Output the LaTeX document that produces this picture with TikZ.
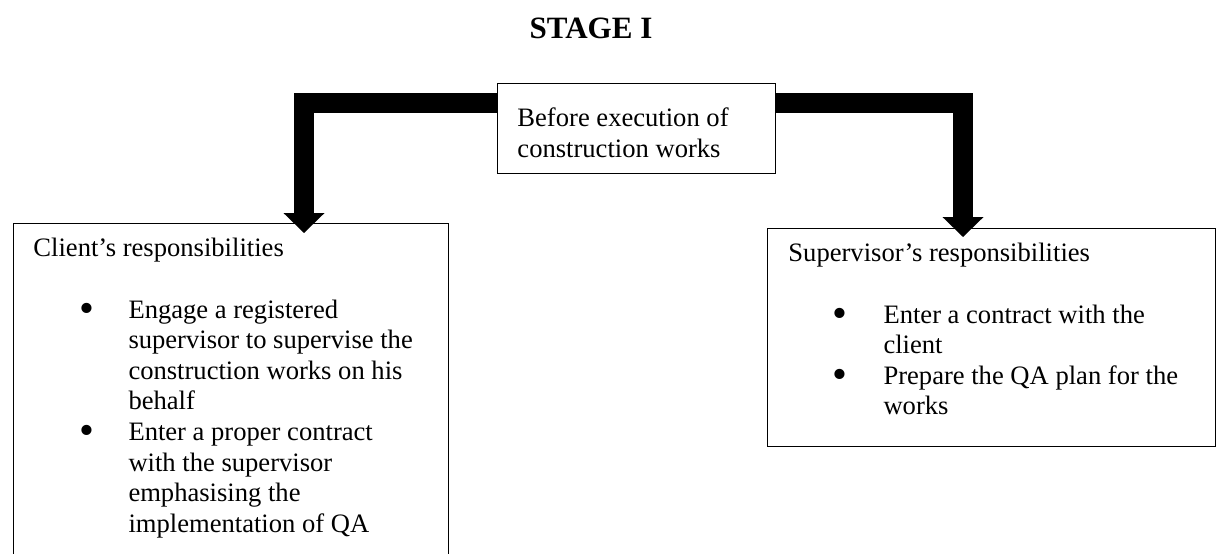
\documentclass[tikz,border=0pt]{standalone}
\usepackage{fontspec}
\usepackage{graphicx}
\setmainfont{Liberation Serif}
\usetikzlibrary{arrows.meta,positioning}
\newcommand{\bul}{\hspace*{-1.3pt}\raisebox{-1.9pt}{\scalebox{1.6}{\textbullet}}}

\begin{document}
\begin{tikzpicture}[x=0.4513pt,y=-0.4513pt,
  every node/.style={font=\fontsize{12}{13.8}\selectfont},
  box/.style={draw,line width=0.6pt,anchor=north west,inner sep=0pt},
  txt/.style={anchor=base west,inner sep=0pt},
  fatarrow/.style={line width=9.3pt,line join=miter,
    -{Triangle[width=18.5pt,length=9pt,line width=0pt]}}]
\clip[use as bounding box] (0,0) rectangle (1216,554);
\node[anchor=base,font=\fontsize{14}{16}\selectfont\bfseries] (title) at (591,39) {STAGE I};
% boxes
\node[box,minimum width=125.5pt,minimum height=40.6pt] (before) at (497,83) {};
\node[box,minimum width=196.3pt,minimum height=160pt] (client) at (13,223) {};
\node[box,minimum width=202.2pt,minimum height=98.4pt] (superv) at (767,228) {};
% texts
\node[txt] (beforetxt) at (517,127) {\begin{tabular}[t]{@{}l@{}}Before execution of\\construction works\end{tabular}};
\node[txt] (clienttxt) at (33,257) {\begin{tabular}[t]{@{}p{22.1pt}@{}p{20.8pt}@{}l@{}}
  \multicolumn{3}{@{}l@{}}{Client’s responsibilities}\\ \\
  & \bul & Engage a registered\\
  & & supervisor to supervise the\\
  & & construction works on his\\
  & & behalf\\
  & \bul & Enter a proper contract\\
  & & with the supervisor\\
  & & emphasising the\\
  & & implementation of QA
\end{tabular}};
\node[txt] (supervtxt) at (788,262) {\begin{tabular}[t]{@{}p{21.2pt}@{}p{21.7pt}@{}l@{}}
  \multicolumn{3}{@{}l@{}}{Supervisor’s responsibilities}\\ \\
  & \bul & Enter a contract with the\\
  & & client\\
  & \bul & Prepare the QA plan for the\\
  & & works
\end{tabular}};
% arrows
\coordinate (lefttip) at (304,233);
\coordinate (righttip) at (963,237);
\draw[fatarrow] ([yshift=-9pt]before.north west) -| (lefttip);
\draw[fatarrow] ([yshift=-9pt]before.north east) -| (righttip);
\end{tikzpicture}
\end{document}
